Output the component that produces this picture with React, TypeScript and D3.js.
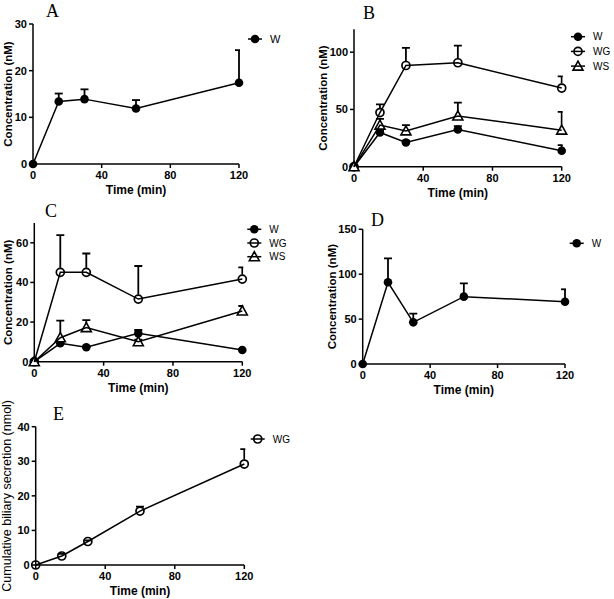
import React from "react";
import * as d3 from "d3";

const times = [0, 15, 30, 60, 120];
const xTicks = [0, 40, 80, 120];

const A_W = [0, 13.4, 13.9, 11.9, 17.4];
const A_W_err = [0, 1.7, 2.1, 1.8, 7.0];

const B_W = [0, 29.9, 21.2, 32.5, 13.9];
const B_W_err = [0, 2, 1.5, 3, 5];
const B_WG = [0, 47.3, 88.4, 90.8, 68.7];
const B_WG_err = [0, 7.2, 15.4, 15, 10.2];
const B_WS = [0, 36.3, 31.3, 44.3, 31.9];
const B_WS_err = [0, 5.5, 5, 11.7, 15.9];

const C_W = [0, 9.3, 7.3, 14.3, 5.9];
const C_W_err = [0, 1, 0.5, 1.7, 0.5];
const C_WG = [0, 45.1, 45.1, 31.6, 41.7];
const C_WG_err = [0, 18.8, 9.5, 16.7, 5.9];
const C_WS = [0, 12.1, 17.2, 10.1, 25.6];
const C_WS_err = [0, 8.6, 3.8, 1, 2.5];

const D_W = [0, 91, 46.4, 75, 69.4];
const D_W_err = [0, 26.7, 9.6, 14.8, 13.8];

const E_WG = [0, 2.6, 6.8, 15.6, 29.2];
const E_WG_err = [0, 0.6, 0.3, 1.3, 4.3];

type Shape = "filled" | "open" | "tri";
interface Series { name: string; shape: Shape; values: number[]; errs: number[]; }
interface PanelCfg {
  id: string; title: string; titleX: number; titleY: number;
  x0: number; x1: number; y0: number; y1: number; yMax: number; yTicks: number[];
  yLabel: string; yLabelX: number; yLabelBold: boolean; yLabelSize: number;
  series: Series[]; legendX: number; legendY: number; legendGap: number; legendFont: number;
}

const FONT = "Liberation Sans, Arial, sans-serif";

function Marker({ shape, cx, cy }: { shape: Shape; cx: number; cy: number }) {
  if (shape === "filled") return <circle cx={cx} cy={cy} r={4.3} fill="#000" />;
  if (shape === "open") return <circle cx={cx} cy={cy} r={4} fill="none" stroke="#000" strokeWidth={1.7} />;
  const s = 5;
  const pts = `${cx},${cy - s} ${cx + s},${cy + s * 0.8} ${cx - s},${cy + s * 0.8}`;
  return <polygon points={pts} fill="#fff" stroke="#000" strokeWidth={1.6} />;
}

function Panel({ cfg }: { cfg: PanelCfg }) {
  const x = d3.scaleLinear().domain([0, 120]).range([cfg.x0, cfg.x1]);
  const y = d3.scaleLinear().domain([0, cfg.yMax]).range([cfg.y0, cfg.y1]);
  const line = d3.line<number>().x((_, i) => x(times[i])).y((v) => y(v));
  const clipId = `clip-${cfg.id}`;
  return (
    <g>
      <defs>
        <clipPath id={clipId}>
          <rect x={cfg.x0 - 10} y={cfg.y1 - 20} width={cfg.x1 - cfg.x0 + 11} height={cfg.y0 - cfg.y1 + 30} />
        </clipPath>
      </defs>
      <text x={cfg.titleX} y={cfg.titleY} fontFamily="Liberation Serif, Times New Roman, serif" fontSize={18}>{cfg.title}</text>
      <line x1={cfg.x0} x2={cfg.x0} y1={cfg.y0} y2={cfg.y1} stroke="#000" strokeWidth={1.5} />
      <line x1={cfg.x0} x2={cfg.x1} y1={cfg.y0} y2={cfg.y0} stroke="#000" strokeWidth={1.5} />
      {cfg.yTicks.map((t) => (
        <g key={"y" + t}>
          <line x1={cfg.x0 - 4} x2={cfg.x0} y1={y(t)} y2={y(t)} stroke="#000" strokeWidth={1.5} />
          <text x={cfg.x0 - 6} y={y(t)} dy="0.35em" textAnchor="end" fontFamily={FONT} fontWeight="bold" fontSize={11}>{t}</text>
        </g>
      ))}
      {xTicks.map((t) => (
        <g key={"x" + t}>
          <line x1={x(t)} x2={x(t)} y1={cfg.y0} y2={cfg.y0 + 4} stroke="#000" strokeWidth={1.5} />
          <text x={x(t)} y={cfg.y0 + 15} textAnchor="middle" fontFamily={FONT} fontWeight="bold" fontSize={11}>{t}</text>
        </g>
      ))}
      <text x={(cfg.x0 + cfg.x1) / 2} y={cfg.y0 + 30} textAnchor="middle" fontFamily={FONT} fontWeight="bold" fontSize={12}>Time (min)</text>
      <text transform={`translate(${cfg.yLabelX},${(cfg.y0 + cfg.y1) / 2}) rotate(-90)`} textAnchor="middle" dy="0.35em"
        fontFamily={FONT} fontWeight={cfg.yLabelBold ? "bold" : "normal"} fontSize={cfg.yLabelSize}>{cfg.yLabel}</text>
      <g clipPath={`url(#${clipId})`}>
        {cfg.series.map((s) =>
          s.values.map((v, i) => {
            if (s.errs[i] <= 0) return null;
            const start = s.shape === "filled" ? y(v) : y(v) - 4.5;
            const top = y(v + s.errs[i]);
            return (
              <g key={"e" + s.name + i}>
                <line x1={x(times[i])} x2={x(times[i])} y1={Math.max(start, top)} y2={top} stroke="#000" strokeWidth={1.8} />
                <line x1={x(times[i]) - 4} x2={x(times[i]) + 4} y1={top} y2={top} stroke="#000" strokeWidth={1.8} />
              </g>
            );
          })
        )}
      </g>
      {cfg.series.map((s) =>
        s.values.map((v, i) => <Marker key={"m" + s.name + i} shape={s.shape} cx={x(times[i])} cy={y(v)} />)
      )}
      {cfg.series.map((s) => (
        <path key={"l" + s.name} d={line(s.values) || ""} fill="none" stroke="#000" strokeWidth={1.5} />
      ))}
      {cfg.series.map((s, k) => {
        const ly = cfg.legendY + k * cfg.legendGap;
        return (
          <g key={"lg" + s.name}>
            <Marker shape={s.shape} cx={cfg.legendX} cy={ly} />
            <line x1={cfg.legendX - 7} x2={cfg.legendX + 7} y1={ly} y2={ly} stroke="#000" strokeWidth={1.5} />
            <text x={cfg.legendX + 15} y={ly} dy="0.35em" fontFamily={FONT} fontSize={cfg.legendFont}>{s.name}</text>
          </g>
        );
      })}
    </g>
  );
}

const panels: PanelCfg[] = [
  {
    id: "A", title: "A", titleX: 46, titleY: 17, x0: 33, x1: 239, y0: 164, y1: 24, yMax: 30, yTicks: [0, 10, 20, 30],
    yLabel: "Concentration (nM)", yLabelX: 8, yLabelBold: true, yLabelSize: 11.5,
    series: [{ name: "W", shape: "filled", values: A_W, errs: A_W_err }],
    legendX: 255, legendY: 39, legendGap: 14, legendFont: 11,
  },
  {
    id: "B", title: "B", titleX: 363, titleY: 19, x0: 354, x1: 561.7, y0: 166.7, y1: 29.3, yMax: 120, yTicks: [0, 50, 100],
    yLabel: "Concentration (nM)", yLabelX: 323, yLabelBold: true, yLabelSize: 11.5,
    series: [
      { name: "W", shape: "filled", values: B_W, errs: B_W_err },
      { name: "WG", shape: "open", values: B_WG, errs: B_WG_err },
      { name: "WS", shape: "tri", values: B_WS, errs: B_WS_err },
    ],
    legendX: 578, legendY: 36.7, legendGap: 14.7, legendFont: 10,
  },
  {
    id: "C", title: "C", titleX: 45, titleY: 217, x0: 34.3, x1: 242.3, y0: 361.7, y1: 223, yMax: 70, yTicks: [0, 20, 40, 60],
    yLabel: "Concentration (nM)", yLabelX: 8, yLabelBold: true, yLabelSize: 11.5,
    series: [
      { name: "W", shape: "filled", values: C_W, errs: C_W_err },
      { name: "WG", shape: "open", values: C_WG, errs: C_WG_err },
      { name: "WS", shape: "tri", values: C_WS, errs: C_WS_err },
    ],
    legendX: 254.3, legendY: 229.3, legendGap: 13.7, legendFont: 10,
  },
  {
    id: "D", title: "D", titleX: 371, titleY: 226, x0: 362.7, x1: 565, y0: 364, y1: 229.3, yMax: 150, yTicks: [0, 50, 100, 150],
    yLabel: "Concentration (nM)", yLabelX: 332, yLabelBold: true, yLabelSize: 11.5,
    series: [{ name: "W", shape: "filled", values: D_W, errs: D_W_err }],
    legendX: 576.7, legendY: 243.3, legendGap: 14, legendFont: 10,
  },
  {
    id: "E", title: "E", titleX: 53, titleY: 420, x0: 35.7, x1: 244.3, y0: 565, y1: 426.7, yMax: 40, yTicks: [0, 10, 20, 30, 40],
    yLabel: "Cumulative biliary secretion (nmol)", yLabelX: 7, yLabelBold: false, yLabelSize: 12.5,
    series: [{ name: "WG", shape: "open", values: E_WG, errs: E_WG_err }],
    legendX: 257.7, legendY: 439, legendGap: 14, legendFont: 10,
  },
];

export default function App() {
  return (
    <svg width={614} height={599} style={{ position: "absolute", left: 0, top: 0, background: "#fff" }}>
      <rect width={614} height={599} fill="#fff" />
      {panels.map((p) => <Panel key={p.id} cfg={p} />)}
    </svg>
  );
}
